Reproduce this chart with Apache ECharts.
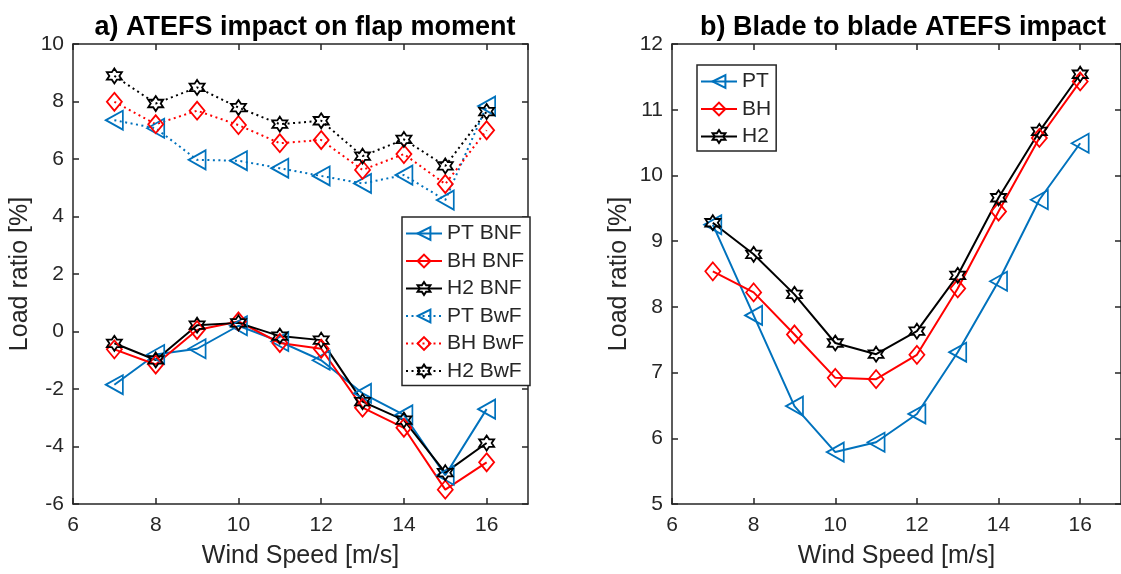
<!DOCTYPE html>
<html>
<head>
<meta charset="utf-8">
<script src="https://cdn.jsdelivr.net/npm/echarts@6/dist/echarts.min.js"></script>
<style>
  html, body { margin: 0; padding: 0; background: #fff; }
  #main { width: 1121px; height: 574px; }
</style>
</head>
<body>
<div id="main"></div>
<script>
// wind speeds, m/s
var windSpeed = [7, 8, 9, 10, 11, 12, 13, 14, 15, 16];

// a) flap moment, without flap (BNF) and with flap (BwF)
var ptBNF = [-1.85, -0.8, -0.6, 0.2, -0.35, -1.0, -2.15, -2.9, -5.0, -2.7];
var bhBNF = [-0.62, -1.15, 0.05, 0.35, -0.4, -0.6, -2.65, -3.35, -5.5, -4.55];
var h2BNF = [-0.41, -0.99, 0.22, 0.3, -0.16, -0.3, -2.44, -3.08, -4.91, -3.88];
var ptBwF = [7.35, 7.07, 5.97, 5.94, 5.68, 5.41, 5.15, 5.44, 4.57, 7.84];
var bhBwF = [7.99, 7.21, 7.68, 7.18, 6.55, 6.66, 5.62, 6.17, 5.13, 7.0];
var h2BwF = [8.89, 7.93, 8.49, 7.79, 7.21, 7.33, 6.10, 6.68, 5.76, 7.65];

// b) blade to blade
var ptB2B = [9.25, 7.87, 6.49, 5.79, 5.94, 6.37, 7.31, 8.39, 9.63, 10.49];
var bhB2B = [8.54, 8.22, 7.58, 6.92, 6.90, 7.27, 8.28, 9.45, 10.57, 11.43];
var h2B2B = [9.28, 8.80, 8.19, 7.45, 7.28, 7.63, 8.48, 9.66, 10.67, 11.54];

var chart = echarts.init(document.getElementById('main'));

var axisColor = '#262626';
var blue = '#0072BD', red = '#FF0000', black = '#000000';
var font = 'Liberation Sans';

var markers = {
  pt: { symbol: 'path://M0,10 L18,0 L18,20 Z', size: [17, 19] },
  bh: { symbol: 'diamond', size: [15, 18] },
  h2: { symbol: 'path://M0,-10 L2.89,-5 L8.66,-5 L5.77,0 L8.66,5 L2.89,5 L0,10 L-2.89,5 L-8.66,5 L-5.77,0 L-8.66,-5 L-2.89,-5 Z', size: 15 }
};

function pairs(values) {
  return windSpeed.map(function (x, i) { return [x, values[i]]; });
}

function makeSeries(name, values, color, marker, dotted, axisIdx) {
  return {
    name: name,
    type: 'line',
    xAxisIndex: axisIdx,
    yAxisIndex: axisIdx,
    data: pairs(values),
    symbol: marker.symbol,
    symbolSize: marker.size,
    lineStyle: { color: color, width: 2, type: dotted ? [2, 3.5] : 'solid' },
    itemStyle: { color: 'rgba(255,255,255,0)', borderColor: color, borderWidth: 1.8 },
    emphasis: { disabled: true }
  };
}

function bottomX(gi) {
  return {
    type: 'value', gridIndex: gi, min: 6, max: 17, interval: 2,
    axisLine: { onZero: false, lineStyle: { color: axisColor, width: 1.5 } },
    axisTick: { inside: true, length: 6, lineStyle: { color: axisColor, width: 1.5 } },
    axisLabel: { fontSize: 21, color: axisColor, margin: 11, showMaxLabel: false, fontFamily: font },
    splitLine: { show: false },
    name: 'Wind Speed [m/s]', nameLocation: 'middle', nameGap: 40,
    nameTextStyle: { fontSize: 25, color: axisColor, fontFamily: font }
  };
}

function topX(gi) {
  return {
    type: 'value', gridIndex: gi, position: 'top', min: 6, max: 17, interval: 2,
    axisLine: { onZero: false, lineStyle: { color: axisColor, width: 1.5 } },
    axisTick: { inside: true, length: 6, lineStyle: { color: axisColor, width: 1.5 } },
    axisLabel: { show: false },
    splitLine: { show: false }
  };
}

function leftY(gi, min, max, step) {
  return {
    type: 'value', gridIndex: gi, min: min, max: max, interval: step,
    axisLine: { show: true, onZero: false, lineStyle: { color: axisColor, width: 1.5 } },
    axisTick: { show: true, inside: true, length: 6, lineStyle: { color: axisColor, width: 1.5 } },
    axisLabel: { fontSize: 21, color: axisColor, margin: 9, fontFamily: font },
    splitLine: { show: false },
    name: 'Load ratio [%]', nameLocation: 'middle', nameGap: 40,
    nameTextStyle: { fontSize: 25, color: axisColor, fontFamily: font }
  };
}

function rightY(gi, min, max, step) {
  return {
    type: 'value', gridIndex: gi, position: 'right', min: min, max: max, interval: step,
    axisLine: { show: true, onZero: false, lineStyle: { color: axisColor, width: 1.5 } },
    axisTick: { show: true, inside: true, length: 6, lineStyle: { color: axisColor, width: 1.5 } },
    axisLabel: { show: false },
    splitLine: { show: false }
  };
}

function legend(names, left, top, padding) {
  return {
    data: names,
    orient: 'vertical',
    left: left, top: top,
    padding: padding,
    itemWidth: 36, itemHeight: 16, itemGap: 6.5,
    backgroundColor: '#fff',
    borderColor: axisColor, borderWidth: 1.5,
    textStyle: { fontSize: 21, color: axisColor, fontFamily: font },
    selectedMode: false
  };
}

var titleStyle = { fontSize: 27, fontWeight: 'bold', color: '#000', fontFamily: font };

var option = {
  animation: false,
  textStyle: { fontFamily: font },
  title: [
    { text: 'a) ATEFS impact on flap moment', left: 300, top: 9, textAlign: 'center', textStyle: titleStyle },
    { text: 'b) Blade to blade ATEFS impact', left: 898, top: 9, textAlign: 'center', textStyle: titleStyle }
  ],
  grid: [
    { left: 73, top: 44, width: 455, height: 460 },
    { left: 672, top: 44, width: 452, height: 461 }
  ],
  xAxis: [bottomX(0), topX(0), bottomX(1), topX(1)],
  yAxis: [leftY(0, -6, 10, 2), rightY(0, -6, 10, 2), leftY(1, 5, 12, 1), rightY(1, 5, 12, 1)],
  legend: [
    legend(['PT BNF', 'BH BNF', 'H2 BNF', 'PT BwF', 'BH BwF', 'H2 BwF'], 402, 217, [6, 6, 4, 3]),
    legend(['PT', 'BH', 'H2'], 697, 65, [6, 5, 4, 3])
  ],
  series: [
    makeSeries('PT BNF', ptBNF, blue, markers.pt, false, 0),
    makeSeries('BH BNF', bhBNF, red, markers.bh, false, 0),
    makeSeries('H2 BNF', h2BNF, black, markers.h2, false, 0),
    makeSeries('PT BwF', ptBwF, blue, markers.pt, true, 0),
    makeSeries('BH BwF', bhBwF, red, markers.bh, true, 0),
    makeSeries('H2 BwF', h2BwF, black, markers.h2, true, 0),
    makeSeries('PT', ptB2B, blue, markers.pt, false, 2),
    makeSeries('BH', bhB2B, red, markers.bh, false, 2),
    makeSeries('H2', h2B2B, black, markers.h2, false, 2)
  ]
};

chart.setOption(option);
</script>
</body>
</html>
